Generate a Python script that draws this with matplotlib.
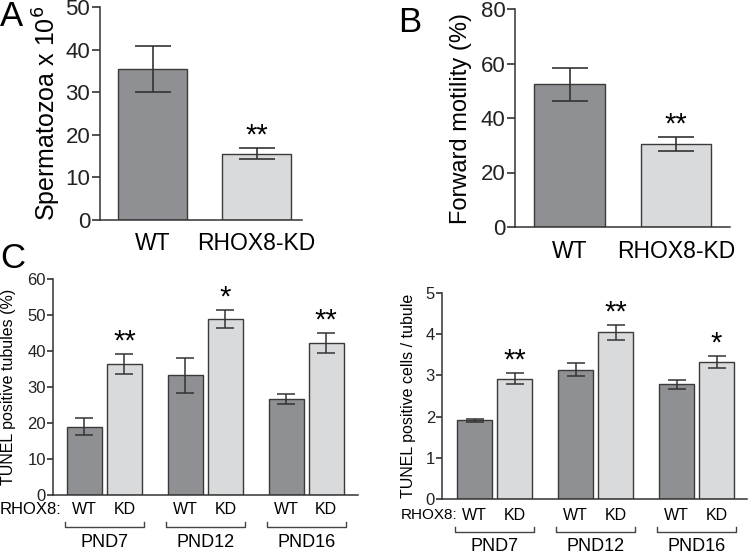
import numpy as np
import matplotlib
matplotlib.use("Agg")
import matplotlib.pyplot as plt
from matplotlib.transforms import blended_transform_factory

plt.rcParams['font.family'] = ['Liberation Sans', 'DejaVu Sans']

# panel A - sperm count
a_labels = ['WT', 'RHOX8-KD']
a_means = [35.5, 15.6]
a_errs = [5.35, 1.2]
a_stars = ['', '**']

# panel B - forward motility
b_labels = ['WT', 'RHOX8-KD']
b_means = [52.3, 30.3]
b_errs = [6.1, 2.55]
b_stars = ['', '**']

# panel C - TUNEL
c_groups = ['PND7', 'PND12', 'PND16']
c_sub = ['WT', 'KD']
tub_wt = [19.0, 33.2, 26.7]
tub_wt_err = [2.45, 4.95, 1.4]
tub_kd = [36.4, 48.8, 42.2]
tub_kd_err = [2.7, 2.5, 2.7]
tub_stars = ['**', '*', '**']

cell_wt = [1.91, 3.14, 2.78]
cell_wt_err = [0.04, 0.15, 0.10]
cell_kd = [2.92, 4.05, 3.32]
cell_kd_err = [0.13, 0.18, 0.14]
cell_stars = ['**', '**', '*']

DARK = '#8f9093'
LIGHT = '#d9dadc'
EDGE = '#3a3a3a'

W, H = 748, 554
fig = plt.figure(figsize=(W / 100, H / 100), dpi=100)


def px_axes(x0, x1, ytop, ybot):
    return fig.add_axes([x0 / W, 1 - ybot / H, (x1 - x0) / W, (ybot - ytop) / H])


def style(ax, fs, xfs, ticklen):
    for s in ['top', 'right']:
        ax.spines[s].set_visible(False)
    for s in ['left', 'bottom']:
        ax.spines[s].set_linewidth(1.1)
        ax.spines[s].set_color('#333333')
    ax.tick_params(axis='y', direction='out', length=ticklen, width=1.1,
                   labelsize=fs, pad=1, colors='#222222')
    ax.tick_params(axis='x', length=0, labelsize=xfs, pad=9)


def simple_panel(ax, labels, means, errs, stars, ymax, step, ylabel, ylab_fs, ylab_x,
                 letter, letter_xy, xlim):
    x = np.arange(len(means))
    ax.bar(x, means, width=0.665, color=[DARK, LIGHT], edgecolor=EDGE, linewidth=1.0, zorder=2)
    ax.errorbar(x, means, yerr=errs, fmt='none', ecolor='#333333', elinewidth=1.2,
                capsize=13, capthick=1.2, zorder=3)
    for xi, m, e, s in zip(x, means, errs, stars):
        if s:
            ax.annotate(s, (xi, m + e), xytext=(0, -1), textcoords='offset points',
                        ha='center', va='bottom', fontsize=21)
    ax.set_ylim(0, ymax)
    ax.set_yticks(np.arange(0, ymax + 1, step))
    ax.set_xlim(*xlim)
    ax.set_xticks(x)
    ax.set_xticklabels(labels)
    style(ax, 16, 16.5, 6)
    pos = ax.get_position()
    fig.text(ylab_x / W, (pos.y0 + pos.y1) / 2, ylabel, rotation=90, ha='center', va='center',
             fontsize=ylab_fs)
    fig.text(letter_xy[0] / W, 1 - letter_xy[1] / H, letter, fontsize=25, ha='left', va='center')


axA = px_axes(100, 302, 7, 220)
simple_panel(axA, a_labels, a_means, a_errs, a_stars, 50, 10,
             'Spermatozoa x 10$^6$', 18, 47, 'A', (0, 17), (-0.505, 1.4375))

axB = px_axes(515, 730, 9, 227)
simple_panel(axB, b_labels, b_means, b_errs, b_stars, 80, 20,
             'Forward motility (%)', 17, 461, 'B', (398, 22), (-0.512, 1.507))


def tunel_panel(ax, wt, wt_err, kd, kd_err, stars, ymax, step, ylabel, ylab_x,
                sub_y, br_y, br_tick, grp_y, rhox_x, rhox_y, rhox_fs):
    g = np.arange(len(c_groups))
    off = 0.198
    bw = 0.347
    ax.bar(g - off, wt, width=bw, color=DARK, edgecolor=EDGE, linewidth=1.0, zorder=2)
    ax.bar(g + off, kd, width=bw, color=LIGHT, edgecolor=EDGE, linewidth=1.0, zorder=2)
    ax.errorbar(g - off, wt, yerr=wt_err, fmt='none', ecolor='#333333', elinewidth=1.1,
                capsize=6.2, capthick=1.1, zorder=3)
    ax.errorbar(g + off, kd, yerr=kd_err, fmt='none', ecolor='#333333', elinewidth=1.1,
                capsize=6.2, capthick=1.1, zorder=3)
    for gi, m, e, s in zip(g, kd, kd_err, stars):
        ax.annotate(s, (gi + off, m + e), xytext=(0, -1), textcoords='offset points',
                    ha='center', va='bottom', fontsize=21)
    ax.set_ylim(0, ymax)
    ax.set_yticks(np.arange(0, ymax + step / 2, step))
    ax.set_xticks([])
    style(ax, 12, 12, 4)
    tr = blended_transform_factory(ax.transData, ax.transAxes)
    for gi, name in zip(g, c_groups):
        for dx, sub in zip([-off, off], c_sub):
            ax.text(gi + dx, sub_y, sub, transform=tr, ha='center', va='center', fontsize=11.5)
        ax.plot([gi - 0.39, gi - 0.39, gi + 0.39, gi + 0.39],
                [br_tick, br_y, br_y, br_tick], transform=tr, color='#444444',
                linewidth=1.0, clip_on=False)
        ax.text(gi, grp_y, name, transform=tr, ha='center', va='center', fontsize=13)
    pos = ax.get_position()
    fig.text(ylab_x / W, (pos.y0 + pos.y1) / 2, ylabel, rotation=90, ha='center', va='center',
             fontsize=11.5)
    fig.text(rhox_x / W, 1 - rhox_y / H, 'RHOX8:', ha='left', va='center', fontsize=rhox_fs)


axC1 = px_axes(53, 358, 279, 495)
axC1.set_xlim(-0.51, 2.512)
tunel_panel(axC1, tub_wt, tub_wt_err, tub_kd, tub_kd_err, tub_stars, 60, 10,
            'TUNEL positive tubules (%)', 9, -0.069, -0.148, -0.125, -0.222, 0, 510, 12)

axC2 = px_axes(442, 747, 293, 499)
axC2.set_xlim(-0.52, 2.5)
tunel_panel(axC2, cell_wt, cell_wt_err, cell_kd, cell_kd_err, cell_stars, 5, 1,
            'TUNEL positive cells / tubule', 409, -0.078, -0.16, -0.136, -0.233, 401, 515, 11)

fig.text(0 / W, 1 - 258 / H, 'C', fontsize=25, ha='left', va='center')

fig.savefig('out.png', dpi=100)
